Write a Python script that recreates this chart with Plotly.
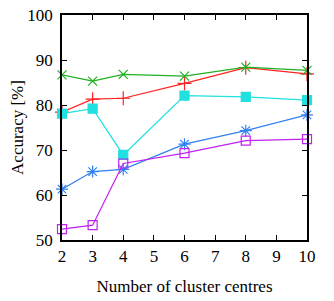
import plotly.graph_objects as go

x_vals = [2, 3, 4, 6, 8, 10]
red_vals = [78.4, 81.3, 81.5, 84.8, 88.3, 86.9]
green_vals = [86.7, 85.3, 86.8, 86.4, 88.4, 87.7]
cyan_vals = [78.1, 79.2, 68.9, 82.1, 81.8, 81.1]
blue_vals = [61.3, 65.2, 65.7, 71.3, 74.3, 77.8]
magenta_vals = [52.4, 53.3, 67.0, 69.3, 72.1, 72.4]

x_ticks = [2, 3, 4, 5, 6, 7, 8, 9, 10]
y_ticks = [50, 60, 70, 80, 90, 100]

series = [
    ("red", red_vals, "#ff2020", "cross-thin-open", 10),
    ("green", green_vals, "#20b020", "x-thin-open", 9),
    ("cyan", cyan_vals, "#20e0e0", "square", 9),
    ("blue", blue_vals, "#3080f0", "asterisk-open", 10),
    ("magenta", magenta_vals, "#c020f0", "square-open", 9),
]

fig = go.Figure()
for name, vals, color, sym, size in series:
    fig.add_trace(go.Scatter(
        x=x_vals, y=vals, name=name, mode="lines+markers",
        line=dict(color=color, width=1.2),
        marker=dict(symbol=sym, size=size, color=color,
                    line=dict(color=color, width=1.2)),
        showlegend=False, cliponaxis=False,
    ))

font = dict(family="Liberation Serif, Times New Roman, serif", size=17, color="black")
axis_common = dict(
    showgrid=False, zeroline=False, showline=True, linecolor="black", linewidth=1.5,
    mirror="allticks", ticks="inside", ticklen=5, tickcolor="black", tickwidth=1,
    tickfont=font, automargin=False, ticklabeloverflow="allow",
)
# page body has an 8px default margin; compensate so the plot sits like the reference
fig.update_layout(
    width=326, height=293,
    margin=dict(l=54, r=27, t=7, b=61, autoexpand=False),
    paper_bgcolor="white", plot_bgcolor="white",
    font=font,
    xaxis=dict(range=[2, 10], tickvals=x_ticks, ticktext=[str(v) for v in x_ticks],
               title=dict(text="Number of cluster centres", font=font, standoff=15),
               **axis_common),
    yaxis=dict(range=[50, 100], tickvals=y_ticks, ticktext=[str(v) for v in y_ticks],
               ticklabelstandoff=4,
               title=dict(text="Accuracy [%]", font=font, standoff=3),
               **axis_common),
)
fig.write_html("out.html")
